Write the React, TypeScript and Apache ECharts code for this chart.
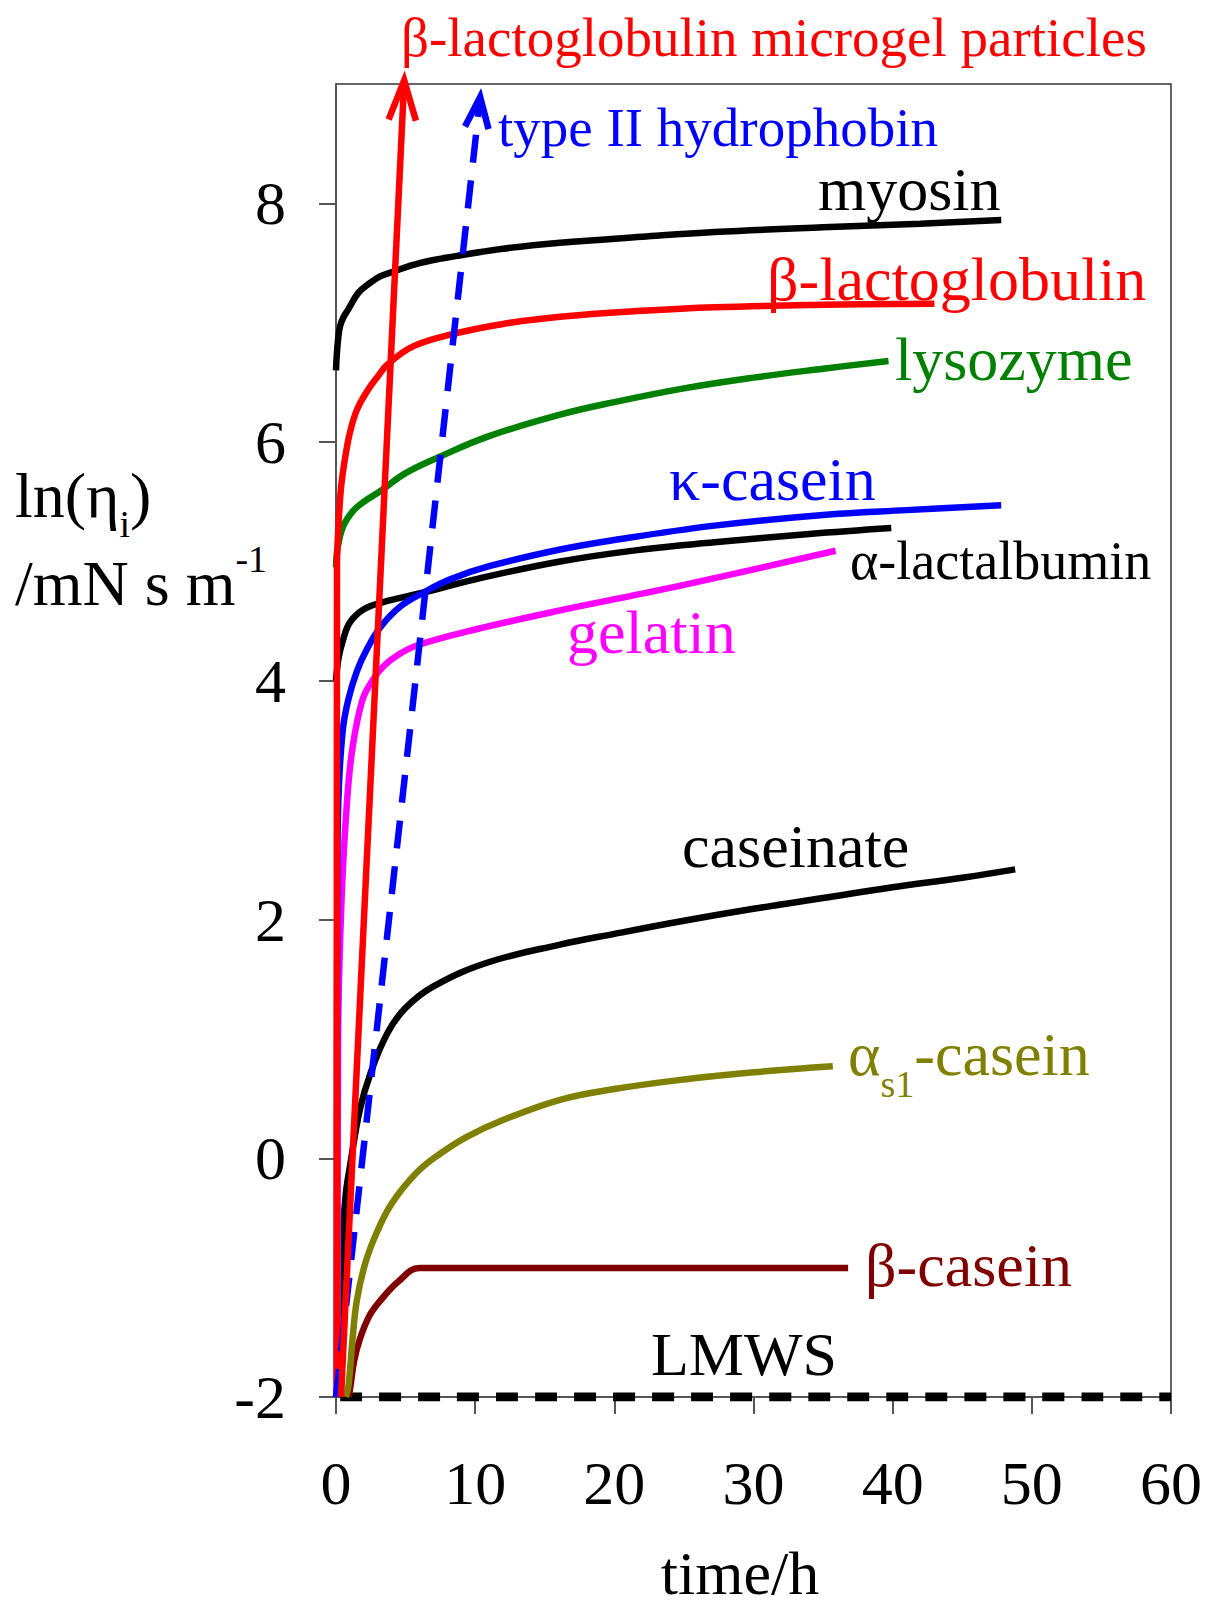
import React, { useEffect, useRef } from "react";
import * as echarts from "echarts";

const FONT = '"Liberation Serif", "Times New Roman", serif';

const xTicks = [0, 10, 20, 30, 40, 50, 60];
const yTicks = [-2, 0, 2, 4, 6, 8];

const myosin = [[0, 6.6], [0.05, 6.72], [0.15, 6.86], [0.29, 6.97], [0.55, 7.05], [0.87, 7.11], [1.6, 7.25], [2.4, 7.33], [3.2, 7.39], [3.9, 7.42], [6, 7.5], [8.7, 7.56], [12, 7.62], [16.1, 7.67], [22, 7.72], [27.2, 7.76], [35, 7.8], [42, 7.83], [47.8, 7.86]];
const betaLg = [[0.05, -2], [0.07, 4.96], [0.15, 5.24], [0.25, 5.45], [0.4, 5.66], [0.7, 5.9], [1.0, 6.08], [1.5, 6.27], [2.2, 6.42], [3.0, 6.55], [3.7, 6.65], [5.5, 6.8], [8.2, 6.9], [12, 6.99], [16.1, 7.05], [22, 7.1], [27.2, 7.13], [35, 7.15], [43, 7.16]];
const lysozyme = [[0, 4.95], [0.1, 5.1], [0.5, 5.29], [1.2, 5.42], [2, 5.5], [3.2, 5.59], [5, 5.74], [7.5, 5.88], [11, 6.05], [16.1, 6.23], [20, 6.335], [25, 6.45], [30, 6.54], [35, 6.615], [39.7, 6.68]];
const kappaCasein = [[0.05, -2], [0.1, 2.5], [0.2, 3.1], [0.5, 3.6], [0.9, 3.85], [1.5, 4.08], [2.2, 4.26], [3.2, 4.45], [4.6, 4.62], [6.3, 4.74], [8.2, 4.85], [11, 4.96], [16.1, 5.1], [20, 5.18], [27.2, 5.3], [35, 5.39], [41, 5.43], [47.8, 5.47]];
const alphaLac = [[0, 4.0], [0.05, 4.07], [0.2, 4.2], [0.5, 4.34], [1, 4.49], [2, 4.6], [3.4, 4.66], [6.3, 4.74], [10, 4.85], [16.1, 5.0], [22, 5.1], [27.2, 5.16], [34, 5.23], [39.9, 5.28]];
const gelatin = [[0.1, -2], [0.15, 1.0], [0.4, 2.17], [0.8, 3.0], [1.2, 3.45], [1.9, 3.84], [2.6, 4.0], [3.4, 4.12], [4.5, 4.22], [5.9, 4.3], [10, 4.43], [16.1, 4.59], [22, 4.73], [27.2, 4.86], [35.9, 5.09]];
const caseinate = [[0.3, -2], [0.4, -1.2], [0.5, -0.63], [0.7, -0.3], [1.0, -0.07], [1.7, 0.4], [2.5, 0.72], [3.7, 1.05], [5, 1.26], [7, 1.44], [10.9, 1.64], [16.1, 1.79], [20, 1.88], [25, 1.99], [30, 2.09], [35, 2.18], [40, 2.27], [45, 2.35], [48.8, 2.42]];
const alphaS1Casein = [[0.7, -2], [0.9, -1.9], [1.2, -1.5], [1.5, -1.19], [2.1, -0.88], [2.9, -0.63], [4, -0.38], [5.8, -0.12], [7.5, 0.04], [9.4, 0.18], [12, 0.32], [16.1, 0.49], [20, 0.58], [25, 0.66], [30, 0.72], [35.7, 0.77]];
const betaCasein = [[0.9, -2], [1.0, -1.94], [1.3, -1.7], [1.7, -1.52], [2.4, -1.32], [3.2, -1.19], [4.5, -1.03], [6.0, -0.92], [36.8, -0.92]];
const lmws = [[0.3, -2], [60, -2]];
const microgelArrow = [0.36, -2, 4.9, 9.03];
const hydrophobinArrow = [0, -2, 10.36, 8.89];

let measureCtx: CanvasRenderingContext2D | null = null;
function tw(text: string, size: number): number {
  if (!measureCtx) measureCtx = document.createElement("canvas").getContext("2d");
  measureCtx!.font = `${size}px "Liberation Serif"`;
  return measureCtx!.measureText(text).width;
}

type Seg = { t: string; s: number; dy?: number };
type Lbl = { x: number; base: number; color: string; segs: Seg[]; center?: boolean };

const labels: Lbl[] = [
  { x: 401, base: 56, color: "#ff0000", segs: [{ t: "β-lactoglobulin microgel particles", s: 55 }] },
  { x: 498, base: 146, color: "#0000ff", segs: [{ t: "type II hydrophobin", s: 55 }] },
  { x: 818, base: 210, color: "#000000", segs: [{ t: "myosin", s: 62 }] },
  { x: 767, base: 300, color: "#ff0000", segs: [{ t: "β-lactoglobulin", s: 62 }] },
  { x: 895, base: 380, color: "#008000", segs: [{ t: "lysozyme", s: 62 }] },
  { x: 669, base: 500, color: "#0000ff", segs: [{ t: "κ-casein", s: 62 }] },
  { x: 850, base: 579, color: "#000000", segs: [{ t: "α-lactalbumin", s: 54 }] },
  { x: 567, base: 653, color: "#ff00ff", segs: [{ t: "gelatin", s: 62 }] },
  { x: 682, base: 867, color: "#000000", segs: [{ t: "caseinate", s: 62 }] },
  { x: 848, base: 1075, color: "#808000", segs: [{ t: "α", s: 62 }, { t: "s1", s: 38, dy: 22 }, { t: "-casein", s: 62 }] },
  { x: 865, base: 1286, color: "#800000", segs: [{ t: "β-casein", s: 62 }] },
  { x: 651, base: 1375, color: "#000000", segs: [{ t: "LMWS", s: 62 }] },
  { x: 15, base: 517, color: "#000000", segs: [{ t: "ln(η", s: 64 }, { t: "i", s: 38, dy: 20 }, { t: ")", s: 64 }] },
  { x: 15, base: 605, color: "#000000", segs: [{ t: "/mN s m", s: 64 }, { t: "-1", s: 38, dy: -33 }] },
  { x: 740, base: 1594, color: "#000000", segs: [{ t: "time/h", s: 62 }], center: true },
];

function buildGraphics() {
  const els: any[] = [];
  labels.forEach((l) => {
    let x = l.x;
    if (l.center) {
      const total = l.segs.reduce((a, s) => a + tw(s.t, s.s), 0);
      x = l.x - total / 2;
    }
    l.segs.forEach((s) => {
      const base = l.base + (s.dy || 0);
      const cy = base - 0.3375 * s.s;
      els.push({
        type: "text",
        x,
        y: cy,
        silent: true,
        style: {
          text: s.t,
          fill: l.color,
          fontSize: s.s,
          fontFamily: FONT,
          align: "left",
          verticalAlign: "middle",
          textAlign: "left",
          textVerticalAlign: "middle",
        },
      });
      x += tw(s.t, s.s);
    });
  });
  return els;
}

function arrowSeries(name: string, vals: number[], color: string, dash: number[] | null, headLen: number, headAng: number) {
  return {
    type: "custom",
    name,
    clip: false,
    z: 5,
    data: [vals],
    encode: { x: [0, 2], y: [1, 3] },
    renderItem: (params: any, api: any) => {
      const p0 = api.coord([api.value(0), api.value(1)]);
      const p1 = api.coord([api.value(2), api.value(3)]);
      const ang = Math.atan2(p1[1] - p0[1], p1[0] - p0[0]);
      const a = (headAng * Math.PI) / 180;
      const w1 = [p1[0] - headLen * Math.cos(ang - a), p1[1] - headLen * Math.sin(ang - a)];
      const w2 = [p1[0] - headLen * Math.cos(ang + a), p1[1] - headLen * Math.sin(ang + a)];
      return {
        type: "group",
        children: [
          {
            type: "line",
            shape: { x1: p0[0], y1: p0[1], x2: p1[0], y2: p1[1] },
            style: { stroke: color, lineWidth: 6.5, fill: null, lineDash: dash || undefined },
          },
          {
            type: "polyline",
            shape: { points: [w1, p1, w2] },
            style: { stroke: color, lineWidth: 6.5, fill: null },
          },
        ],
      };
    },
  };
}

function lineSeries(name: string, data: number[][], color: string, dash?: number[], width = 6.5) {
  return {
    type: "line",
    name,
    data,
    showSymbol: false,
    symbol: "none",
    smooth: 0.4,
    z: 3,
    lineStyle: { color, width, type: dash || "solid" },
  };
}

export default function App() {
  const ref = useRef<HTMLDivElement>(null);
  useEffect(() => {
    document.body.style.margin = "0";
    const chart = echarts.init(ref.current!, null, { renderer: "svg" });
    const axisColor = "#555";
    chart.setOption({
      animation: false,
      backgroundColor: "#ffffff",
      grid: {
        left: 336,
        right: 37,
        top: 84,
        bottom: 203,
        show: true,
        borderColor: "#333",
        borderWidth: 1.5,
        containLabel: false,
        outerBoundsMode: "none",
      },
      xAxis: {
        type: "value",
        min: 0,
        max: 60,
        interval: 10,
        axisLine: { show: true, onZero: false, lineStyle: { color: axisColor, width: 2 } },
        axisTick: { show: true, length: 17, lineStyle: { color: axisColor, width: 2 }, customValues: xTicks },
        axisLabel: {
          customValues: xTicks,
          fontSize: 62,
          fontFamily: FONT,
          color: "#000",
          margin: 86,
          verticalAlign: "middle",
        },
        splitLine: { show: false },
      },
      yAxis: {
        type: "value",
        min: -2,
        max: 9,
        interval: 2,
        axisLine: { show: true, onZero: false, lineStyle: { color: axisColor, width: 2 } },
        axisTick: { show: true, length: 17, lineStyle: { color: axisColor, width: 2 }, customValues: yTicks },
        axisLabel: {
          customValues: yTicks,
          fontSize: 62,
          fontFamily: FONT,
          color: "#000",
          margin: 50,
        },
        splitLine: { show: false },
      },
      series: [
        lineSeries("LMWS", lmws, "#000000", [22, 17], 9),
        lineSeries("β-casein", betaCasein, "#800000"),
        lineSeries("αs1-casein", alphaS1Casein, "#808000"),
        lineSeries("caseinate", caseinate, "#000000"),
        lineSeries("gelatin", gelatin, "#ff00ff"),
        lineSeries("α-lactalbumin", alphaLac, "#000000"),
        lineSeries("κ-casein", kappaCasein, "#0000ff"),
        lineSeries("lysozyme", lysozyme, "#008000"),
        lineSeries("β-lactoglobulin", betaLg, "#ff0000"),
        lineSeries("myosin", myosin, "#000000"),
        arrowSeries("type II hydrophobin", hydrophobinArrow, "#0000ff", [28, 18], 33, 21),
        arrowSeries("β-lactoglobulin microgel particles", microgelArrow, "#ff0000", null, 42, 19),
      ],
      graphic: buildGraphics(),
    });
    return () => chart.dispose();
  }, []);
  return <div ref={ref} style={{ position: "absolute", left: 0, top: 0, width: 1208, height: 1600 }} />;
}
